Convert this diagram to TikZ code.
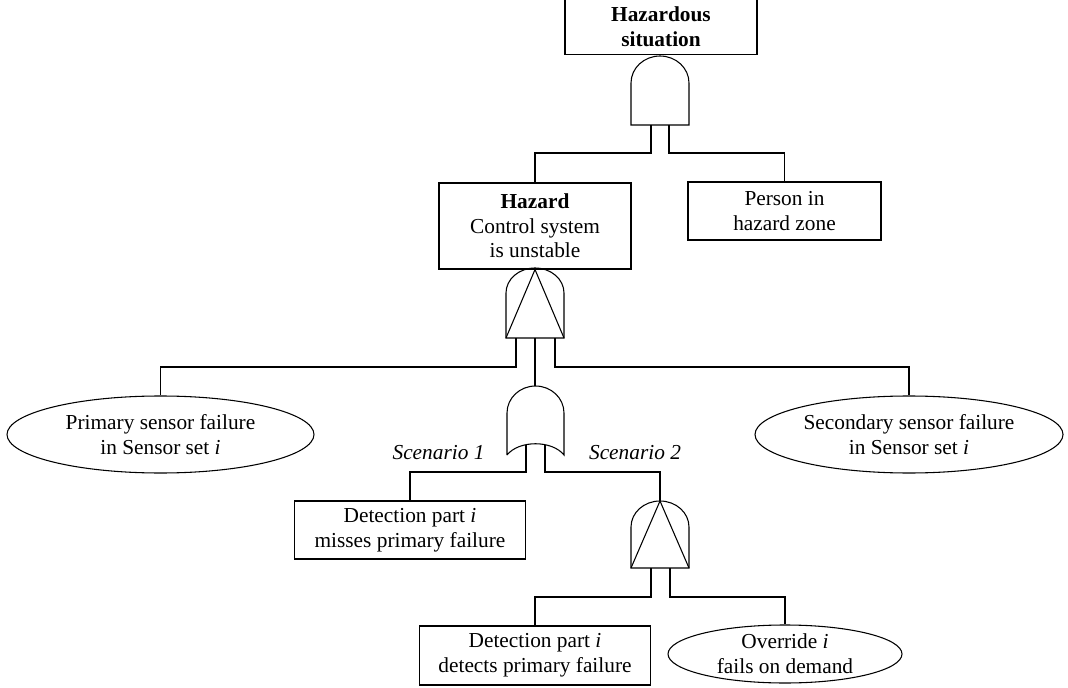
\documentclass[tikz,border=0pt]{standalone}
\usepackage{fontspec}
\setmainfont{Liberation Serif}
\usetikzlibrary{shapes.geometric}

\tikzset{
  event/.style={draw, rectangle, align=center, inner sep=0pt},
  basic/.style={draw, ellipse, align=center, inner xsep=0pt, inner ysep=-5pt},
  scen/.style={anchor=base, font=\fontsize{16}{18.5}\selectfont\itshape},
}

\begin{document}
\begin{tikzpicture}[x=0.75pt, y=-0.75pt, line width=0.8pt, font=\fontsize{16}{18.5}\selectfont]
    \useasboundingbox (0,0) rectangle (1068,688);

    % events
    \node[event, anchor=south, minimum width=144pt, minimum height=60pt] (top) at (661,55) {};
    \node[align=center, inner sep=0pt, font=\fontsize{16}{18.5}\selectfont\bfseries] (toptxt) at (661,27) {Hazardous\\situation};
    \node[event, minimum width=144pt, minimum height=64.5pt] (haz) at (535,226) {\textbf{Hazard}\\Control system\\is unstable};
    \node[event, minimum width=144.75pt, minimum height=43.5pt] (per) at (784.5,211) {Person in\\hazard zone};
    \node[basic, minimum width=230.25pt, minimum height=57.75pt] (pri) at (160.5,434.5) {Primary sensor failure\\in Sensor set \textit{i}};
    \node[basic, minimum width=231pt, minimum height=57.75pt] (sec) at (909,434.5) {Secondary sensor failure\\in Sensor set \textit{i}};
    \node[event, minimum width=173.25pt, minimum height=43.5pt] (mis) at (410,530) {Detection part \textit{i}\\misses primary failure};
    \node[event, minimum width=173.25pt, minimum height=44.25pt] (det) at (535,655.5) {Detection part \textit{i}\\detects primary failure};
    \node[basic, minimum width=175.5pt, minimum height=43.5pt] (ovr) at (785,654) {Override \textit{i}\\fails on demand};
    \node[scen] (sc1) at (438.5,459) {Scenario 1};
    \node[scen] (sc2) at (635,459) {Scenario 2};

    % gate 1: AND under the top event
    \draw (631,125) -- (631,83) arc (180:360:29 and 27) -- (689,125) -- cycle;
    \coordinate (g1l) at (651,125);
    \coordinate (g1r) at (669,125);

    % gate 2: AND with triangle under the hazard
    \draw (506,338) -- (506,293) arc (180:360:29 and 25) -- (564,338) -- cycle;
    \draw (506,338) -- (haz.south) -- (564,338);
    \coordinate (g2l) at (516,338);
    \coordinate (g2m) at (535,338);
    \coordinate (g2r) at (555,338);

    % gate 3: OR for the two scenarios
    \draw (507,455) -- (507,413) arc (180:360:28.5 and 27) -- (564,455)
          .. controls (552,440) and (519,440) .. (507,455);
    \coordinate (g3in) at (535.5,386);
    \coordinate (g3l) at (526,445);
    \coordinate (g3r) at (545,445);

    % gate 4: AND with triangle for scenario 2
    \draw (631,568) -- (631,527) arc (180:360:29 and 26) -- (689,568) -- cycle;
    \coordinate (g4in) at (660,501);
    \draw (631,568) -- (g4in) -- (689,568);
    \coordinate (g4l) at (651,568);
    \coordinate (g4r) at (670,568);

    % connectors
    \draw (g1l) -- ++(0,28) -| (haz.north);
    \draw (g1r) -- ++(0,28) -| (per.north);
    \draw (g2l) -- ++(0,29) -| (pri.north);
    \draw (g2r) -- ++(0,29) -| (sec.north);
    \draw (g2m) -- (g2m |- g3in);
    \draw (g3l) -- ++(0,27) -| (mis.north);
    \draw (g3r) -- ++(0,27) -| (g4in);
    \draw (g4l) -- ++(0,29) -| (det.north);
    \draw (g4r) -- ++(0,29) -| (ovr.north);
\end{tikzpicture}
\end{document}
